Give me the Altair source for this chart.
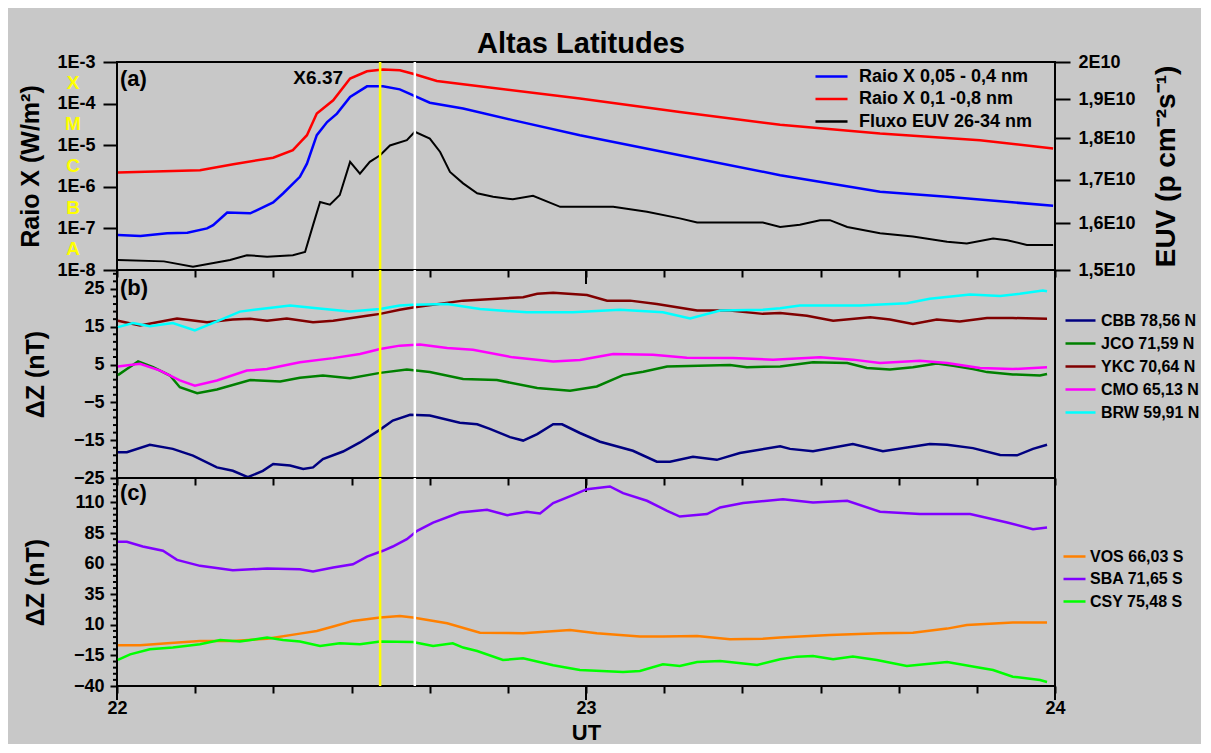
import altair as alt
import pandas as pd

FONT = "Liberation Sans"
BG = "#c8c8c8"
W, H = 938, 208

TITLE = "Altas Latitudes"

# ---------------- Panel (a) ----------------
SERIES_A = ["Raio X 0,05 - 0,4 nm", "Raio X 0,1 -0,8 nm", "Fluxo EUV 26-34 nm"]
COLORS_A = ["#0000ff", "#ff0000", "#000000"]

XR_SHORT_T = [22.002, 22.050, 22.107, 22.150, 22.192, 22.205, 22.225, 22.235, 22.284, 22.333,
              22.354, 22.390, 22.405, 22.426, 22.448, 22.469, 22.497, 22.533, 22.567, 22.603,
              22.667, 22.738, 22.844, 22.987, 23.200, 23.414, 23.627, 23.770, 23.996]
XR_SHORT_V = [6.9e-8, 6.6e-8, 7.6e-8, 7.9e-8, 1.0e-7, 1.2e-7, 1.9e-7, 2.4e-7, 2.3e-7, 4.2e-7,
              6.9e-7, 1.74e-6, 3.6e-6, 1.74e-5, 3.6e-5, 5.75e-5, 1.45e-4, 2.6e-4, 2.6e-4, 2.2e-4,
              1.05e-4, 7.6e-5, 4.0e-5, 1.74e-5, 5.75e-6, 1.9e-6, 7.6e-7, 5.75e-7, 3.5e-7]

XR_LONG_T = [22.002, 22.177, 22.248, 22.333, 22.375, 22.390, 22.405, 22.426, 22.461, 22.497,
             22.533, 22.567, 22.603, 22.631, 22.682, 22.738, 22.987, 23.200, 23.414, 23.627,
             23.840, 23.996]
XR_LONG_V = [2.2e-6, 2.5e-6, 3.5e-6, 5.0e-6, 7.6e-6, 1.15e-5, 1.74e-5, 5.75e-5, 1.2e-4, 4.0e-4,
             6.0e-4, 6.6e-4, 6.3e-4, 5.2e-4, 3.5e-4, 2.9e-4, 1.32e-4, 6.3e-5, 3.1e-5, 1.9e-5,
             1.32e-5, 8.3e-6]

EUV_T = [22.002, 22.100, 22.162, 22.241, 22.277, 22.320, 22.375, 22.401, 22.418, 22.433,
         22.454, 22.475, 22.497, 22.518, 22.539, 22.561, 22.582, 22.618, 22.635, 22.667,
         22.689, 22.710, 22.738, 22.768, 22.802, 22.844, 22.887, 22.945, 23.058, 23.130,
         23.200, 23.237, 23.377, 23.414, 23.456, 23.499, 23.520, 23.557, 23.627, 23.697,
         23.770, 23.812, 23.868, 23.898, 23.940, 23.996]
EUV_V = [1.521, 1.518, 1.507, 1.521, 1.531, 1.528, 1.531, 1.538, 1.596, 1.648,
         1.642, 1.664, 1.742, 1.714, 1.742, 1.758, 1.782, 1.795, 1.816, 1.799,
         1.766, 1.718, 1.691, 1.668, 1.660, 1.654, 1.662, 1.637, 1.637, 1.626,
         1.611, 1.602, 1.602, 1.592, 1.597, 1.607, 1.607, 1.592, 1.578, 1.571,
         1.560, 1.556, 1.567, 1.563, 1.553, 1.553]  # x 1E10

GOES_LETTERS = ["A", "B", "C", "M", "X"]
GOES_LEVELS = [10 ** -7.5, 10 ** -6.5, 10 ** -5.5, 10 ** -4.5, 10 ** -3.5]

FLARE_LABEL = "X6.37"
FLARE_T, FLARE_V = 22.429, 4.1e-4

XR_TICKS = [1e-8, 1e-7, 1e-6, 1e-5, 1e-4, 1e-3]
EUV_TICKS = [1.5e10, 1.6e10, 1.7e10, 1.8e10, 1.9e10, 2.0e10]

# ---------------- Panel (b) ----------------
SERIES_B = ["CBB 78,56 N", "JCO 71,59 N", "YKC 70,64 N", "CMO 65,13 N", "BRW 59,91 N"]
COLORS_B = ["#000080", "#008000", "#800000", "#ff00ff", "#00ffff"]

CBB_T = [22.002, 22.021, 22.070, 22.119, 22.162, 22.213, 22.247, 22.279, 22.311, 22.333,
         22.369, 22.397, 22.418, 22.439, 22.482, 22.518, 22.561, 22.588, 22.625, 22.667,
         22.731, 22.768, 22.795, 22.838, 22.866, 22.896, 22.930, 22.949, 22.987, 23.030,
         23.100, 23.151, 23.179, 23.228, 23.279, 23.328, 23.414, 23.435, 23.484, 23.569,
         23.633, 23.733, 23.770, 23.825, 23.883, 23.919, 23.953, 23.983]
CBB_V = [-18.2, -18.2, -16.2, -17.3, -19.1, -22.2, -23.1, -24.8, -23.1, -21.3,
         -21.7, -22.6, -22.2, -20.0, -18.0, -15.6, -12.2, -9.8, -8.3, -8.5,
         -10.4, -10.8, -12.0, -14.2, -15.1, -13.4, -10.8, -10.8, -13.1, -15.4,
         -17.8, -20.7, -20.7, -19.4, -20.2, -18.4, -16.6, -17.3, -17.9, -16.0,
         -17.9, -16.0, -16.2, -17.1, -18.9, -19.0, -17.3, -16.2]

JCO_T = [22.002, 22.021, 22.045, 22.077, 22.113, 22.134, 22.171, 22.213, 22.284, 22.348,
         22.390, 22.439, 22.497, 22.561, 22.618, 22.667, 22.738, 22.810, 22.896, 22.966,
         23.023, 23.079, 23.122, 23.173, 23.307, 23.343, 23.414, 23.484, 23.557, 23.599,
         23.648, 23.697, 23.748, 23.783, 23.825, 23.855, 23.910, 23.968, 23.983]
JCO_V = [2.2, 3.8, 5.8, 4.3, 2.1, -1.0, -2.6, -1.6, 0.9, 0.5,
         1.5, 2.1, 1.4, 2.8, 3.7, 3.0, 1.2, 0.9, -1.2, -1.9,
         -0.8, 2.2, 3.1, 4.5, 4.9, 4.3, 4.5, 5.6, 5.4, 4.1,
         3.7, 4.3, 5.3, 4.7, 3.8, 3.0, 2.4, 2.1, 2.5]

YKC_T = [22.002, 22.049, 22.128, 22.192, 22.247, 22.284, 22.320, 22.362, 22.418, 22.461,
         22.533, 22.561, 22.603, 22.631, 22.738, 22.866, 22.896, 22.930, 23.002, 23.045,
         23.094, 23.151, 23.237, 23.307, 23.377, 23.414, 23.471, 23.527, 23.606, 23.648,
         23.697, 23.748, 23.797, 23.855, 23.910, 23.983]
YKC_V = [16.6, 15.3, 17.2, 16.2, 16.9, 17.1, 16.6, 17.2, 16.2, 16.6,
         17.9, 18.4, 19.5, 20.1, 21.9, 22.8, 23.7, 24.0, 23.4, 21.9,
         21.9, 21.0, 19.3, 19.3, 18.4, 18.6, 17.9, 16.6, 17.5, 16.9,
         15.7, 16.9, 16.4, 17.3, 17.3, 17.1]

CMO_T = [22.002, 22.049, 22.092, 22.134, 22.166, 22.213, 22.277, 22.320, 22.390, 22.461,
         22.518, 22.561, 22.603, 22.646, 22.704, 22.759, 22.844, 22.930, 22.987, 23.058,
         23.143, 23.215, 23.313, 23.399, 23.499, 23.569, 23.627, 23.712, 23.770, 23.840,
         23.910, 23.983]
CMO_V = [4.5, 5.2, 3.4, 0.8, -0.6, 0.8, 3.4, 3.8, 5.6, 6.7,
         7.8, 9.1, 10.0, 10.3, 9.4, 8.9, 6.9, 5.8, 6.2, 7.8,
         7.6, 6.8, 6.7, 6.3, 6.9, 6.3, 5.4, 6.0, 5.4, 4.1,
         3.8, 4.3]

BRW_T = [22.002, 22.034, 22.070, 22.119, 22.166, 22.213, 22.262, 22.320, 22.369, 22.426,
         22.497, 22.561, 22.603, 22.631, 22.704, 22.774, 22.874, 22.972, 23.072, 23.164,
         23.222, 23.286, 23.377, 23.414, 23.456, 23.584, 23.684, 23.733, 23.819, 23.883,
         23.925, 23.974, 23.983]
BRW_V = [14.9, 16.0, 15.1, 16.0, 14.0, 16.4, 19.0, 19.9, 20.6, 19.9,
         19.0, 19.7, 20.6, 20.8, 21.0, 19.7, 18.8, 18.8, 19.5, 18.8,
         17.2, 19.3, 19.5, 19.9, 20.6, 20.6, 21.2, 22.4, 23.5, 23.1,
         23.7, 24.6, 24.4]

# ---------------- Panel (c) ----------------
SERIES_C = ["VOS 66,03 S", "SBA 71,65 S", "CSY 75,48 S"]
COLORS_C = ["#ff8000", "#8000ff", "#00ff00"]

VOS_T = [22.002, 22.049, 22.107, 22.177, 22.247, 22.320, 22.390, 22.426, 22.461, 22.503,
         22.561, 22.603, 22.631, 22.704, 22.774, 22.866, 22.966, 23.023, 23.115, 23.164,
         23.237, 23.307, 23.377, 23.414, 23.520, 23.627, 23.697, 23.770, 23.812, 23.910,
         23.983]
VOS_V = [-6.7, -6.7, -5.1, -3.2, -3.2, -1.3, 2.8, 5.0, 8.6, 13.2,
         15.9, 17.3, 15.9, 11.3, 3.6, 3.1, 5.8, 3.1, 0.4, 0.4,
         0.9, -1.8, -1.3, -0.4, 1.7, 3.1, 3.6, 6.9, 9.9, 11.8,
         11.8]

SBA_T = [22.002, 22.021, 22.055, 22.098, 22.128, 22.177, 22.247, 22.320, 22.390, 22.418,
         22.461, 22.503, 22.533, 22.567, 22.588, 22.603, 22.618, 22.640, 22.674, 22.731,
         22.789, 22.832, 22.874, 22.902, 22.930, 22.972, 23.002, 23.051, 23.079, 23.130,
         23.173, 23.200, 23.258, 23.286, 23.335, 23.420, 23.484, 23.557, 23.627, 23.712,
         23.819, 23.898, 23.953, 23.983]
SBA_V = [77.8, 77.8, 74.0, 70.5, 63.1, 58.2, 54.6, 56.0, 55.5, 53.6,
         56.8, 59.5, 65.8, 70.5, 74.0, 77.0, 80.0, 86.8, 93.6, 101.8,
         104.0, 99.6, 102.4, 101.0, 109.5, 116.0, 120.9, 123.1, 117.6, 111.4,
         103.2, 98.5, 100.5, 105.9, 109.5, 112.7, 110.0, 111.4, 102.4, 100.5,
         100.5, 93.6, 88.2, 89.5]

CSY_T = [22.002, 22.028, 22.070, 22.119, 22.177, 22.220, 22.262, 22.320, 22.354, 22.390,
         22.433, 22.475, 22.518, 22.561, 22.631, 22.674, 22.716, 22.738, 22.768, 22.823,
         22.866, 22.930, 22.987, 23.079, 23.115, 23.164, 23.200, 23.237, 23.286, 23.365,
         23.414, 23.450, 23.484, 23.527, 23.569, 23.620, 23.684, 23.770, 23.840, 23.868,
         23.910, 23.968, 23.983]
CSY_V = [-18.7, -14.1, -10.0, -8.6, -5.9, -2.4, -3.7, -0.4, -2.4, -3.7,
         -7.3, -5.1, -5.9, -3.7, -4.0, -7.3, -5.1, -8.6, -11.4, -18.7,
         -17.4, -23.1, -26.9, -28.5, -27.7, -22.3, -23.6, -20.4, -19.5, -22.8,
         -18.2, -16.0, -15.5, -18.2, -16.0, -18.7, -23.6, -20.4, -25.0, -26.9,
         -32.4, -35.1, -36.7]

# Event markers (UT hours)
YELLOW_T = 22.561
WHITE_T = 22.635

X_TICKS = [22 + i / 6 for i in range(13)]
X_HOURS = [22, 23, 24]

B_MAJOR = [-25, -15, -5, 5, 15, 25]
B_MINOR = [v for v in range(-23, 31, 2) if v not in B_MAJOR]
C_MAJOR = [-40, -15, 10, 35, 60, 85, 110]
C_MINOR = [v for v in range(-35, 130, 5) if v not in C_MAJOR]


def long_df(pairs):
    rows = []
    for name, ts, vs in pairs:
        for t, v in zip(ts, vs):
            rows.append({"t": t, "v": v, "serie": name})
    return pd.DataFrame(rows)


XSCALE = alt.Scale(domain=[22, 24], nice=False, zero=False)


def x_enc(show):
    ax = alt.Axis(values=X_TICKS, grid=False, domain=False, tickSize=7, tickWidth=2,
                  tickColor="black", labels=show, labelOverlap=False, labelFlush=False,
                  labelExpr="datum.value % 1 == 0 ? format(datum.value, 'd') : ''",
                  labelFontSize=18, labelFont=FONT, labelFontWeight="bold", labelPadding=6,
                  title="UT" if show else None, titleFontSize=22, titleFont=FONT,
                  titleFontWeight="bold", titlePadding=5)
    return alt.X("t:Q", scale=XSCALE, axis=ax)


def overlays(show):
    hours = alt.Chart(pd.DataFrame({"t": X_HOURS})).mark_rule(color="black", strokeWidth=2).encode(
        x=x_enc(show), y=alt.value(H), y2=alt.value(H + 14))
    yel = alt.Chart(pd.DataFrame({"t": [YELLOW_T]})).mark_rule(color="#ffff00", strokeWidth=2.5).encode(
        x=x_enc(show), y=alt.value(0), y2=alt.value(H))
    wht = alt.Chart(pd.DataFrame({"t": [WHITE_T]})).mark_rule(color="#ffffff", strokeWidth=2.5).encode(
        x=x_enc(show), y=alt.value(0), y2=alt.value(H))
    return [yel, wht, hours]


def text_at(txt, xpx, ypx, size, align="left"):
    return alt.Chart(pd.DataFrame({"lab": [txt]})).mark_text(
        align=align, baseline="middle", font=FONT, fontSize=size, fontWeight="bold", color="black"
    ).encode(x=alt.value(xpx), y=alt.value(ypx), text="lab:N")


def legend(x, y, row_pad, half_len, box, off, fsize):
    return alt.Legend(orient="none", legendX=x, legendY=y, title=None,
                      symbolType=f"M{-half_len},0H{half_len}", symbolSize=box * box,
                      symbolStrokeWidth=2.5, labelFontSize=fsize,
                      labelFont=FONT, labelFontWeight="bold", labelColor="black",
                      labelOffset=off, rowPadding=row_pad, padding=0, labelLimit=400)


# ---------- Panel (a)
xr_df = long_df([(SERIES_A[0], XR_SHORT_T, XR_SHORT_V), (SERIES_A[1], XR_LONG_T, XR_LONG_V)])
euv_df = pd.DataFrame({"t": EUV_T, "v": [v * 1e10 for v in EUV_V], "serie": SERIES_A[2]})

ya_scale = alt.Scale(type="log", domain=[1e-8, 1e-3], nice=False)
ya_axis = alt.Axis(values=XR_TICKS, grid=False, domain=False, tickSize=14, tickWidth=2,
                   tickColor="black", labelExpr="'1E' + round(log(datum.value) / LN10)",
                   labelFontSize=18, labelFont=FONT, labelFontWeight="bold", labelPadding=8,
                   title="Raio X (W/m²)", titleFontSize=25, titleFont=FONT, titleFontWeight="bold",
                   titleAngle=270, titleBaseline="middle", titleX=-87)
# legend (a): line 32 px, rows ~20.5 px
color_a = alt.Color("serie:N", scale=alt.Scale(domain=SERIES_A, range=COLORS_A),
                    legend=legend(704, 4, 2.5, 1.78, 18, 17, 18))

xr_lines = alt.Chart(xr_df).mark_line(strokeWidth=2.5).encode(
    x=x_enc(False), y=alt.Y("v:Q", scale=ya_scale, axis=ya_axis), color=color_a)

letters = alt.Chart(pd.DataFrame({"lab": GOES_LETTERS, "v": GOES_LEVELS})).mark_text(
    font=FONT, fontSize=19, fontWeight="bold", color="#ffff00", align="center", baseline="middle"
).encode(x=alt.value(-44), y=alt.Y("v:Q", scale=ya_scale, axis=ya_axis), text="lab:N")

flare = alt.Chart(pd.DataFrame({"t": [FLARE_T], "v": [FLARE_V], "lab": [FLARE_LABEL]})).mark_text(
    font=FONT, fontSize=19, fontWeight="bold", color="black", align="center", baseline="middle"
).encode(x=x_enc(False), y=alt.Y("v:Q", scale=ya_scale, axis=ya_axis), text="lab:N")

inner_a = alt.layer(xr_lines, letters, flare)

ye_axis = alt.Axis(values=EUV_TICKS, orient="right", grid=False, domain=False, tickSize=15,
                   tickWidth=2, tickColor="black",
                   labelExpr="replace(format(datum.value / 1e10, '.1~f'), '.', ',') + 'E10'",
                   labelFontSize=18, labelFont=FONT, labelFontWeight="bold", labelPadding=8,
                   title="EUV (p cm⁻²s⁻¹)", titleFontSize=28, titleFont=FONT,
                   titleFontWeight="bold", titleAngle=270, titleBaseline="middle", titleX=111)
euv_line = alt.Chart(euv_df).mark_line(strokeWidth=2).encode(
    x=x_enc(False),
    y=alt.Y("v:Q", scale=alt.Scale(type="log", domain=[1.5e10, 2e10], nice=False, zero=False),
            axis=ye_axis),
    color=color_a)

panel_a = alt.layer(inner_a, euv_line, text_at("(a)", 3, 17, 22), text_at(TITLE, 464, -18, 29, "center"),
                    *overlays(False)).resolve_scale(y="independent").properties(width=W, height=H)


# ---------- Panels (b) and (c)
def dz_panel(df, series, colors, domain, major, minor, label, label_y, show_x, leg):
    ysc = alt.Scale(domain=domain, nice=False, zero=False)
    yax = alt.Axis(values=major, grid=False, domain=False, tickSize=7, tickWidth=2,
                   tickColor="black", labelFontSize=18, labelFont=FONT, labelFontWeight="bold",
                   labelPadding=6, title="ΔZ (nT)", titleFontSize=25, titleFont=FONT,
                   titleFontWeight="bold", titleAngle=270, titleBaseline="middle", titleX=-82)
    col = alt.Color("serie:N", scale=alt.Scale(domain=series, range=colors), legend=leg)
    lines = alt.Chart(df).mark_line(strokeWidth=2.5).encode(
        x=x_enc(show_x), y=alt.Y("v:Q", scale=ysc, axis=yax), color=col)
    minors = alt.Chart(pd.DataFrame({"v": minor})).mark_rule(color="black", strokeWidth=2).encode(
        x=alt.value(0), x2=alt.value(-4), y=alt.Y("v:Q", scale=ysc, axis=yax))
    return alt.layer(lines, minors, text_at(label, 3, label_y, 22), *overlays(show_x)).properties(
        width=W, height=H)


b_df = long_df([(SERIES_B[0], CBB_T, CBB_V), (SERIES_B[1], JCO_T, JCO_V),
                (SERIES_B[2], YKC_T, YKC_V), (SERIES_B[3], CMO_T, CMO_V),
                (SERIES_B[4], BRW_T, BRW_V)])
c_df = long_df([(SERIES_C[0], VOS_T, VOS_V), (SERIES_C[1], SBA_T, SBA_V),
                (SERIES_C[2], CSY_T, CSY_V)])

# legend (b): line 30 px, rows 23 px ; legend (c): line 22 px, rows 22.5 px
panel_b = dz_panel(b_df, SERIES_B, COLORS_B, [-25, 30], B_MAJOR, B_MINOR, "(b)", 18, False,
                   legend(952, 39, 3, 1.5, 20, 9, 16))
panel_c = dz_panel(c_df, SERIES_C, COLORS_C, [-40, 130], C_MAJOR, C_MINOR, "(c)", 15, True,
                   legend(946, 67, 2.5, 1.1, 20, 4, 16))

chart = alt.vconcat(panel_a, panel_b, panel_c, spacing=0, bounds="flush").resolve_scale(
    x="shared", y="independent", color="independent").resolve_axis(
    x="independent", y="independent").resolve_legend(color="independent").configure(
    background=BG, padding={"left": 9, "top": 21, "right": 0, "bottom": 0}).configure_view(
    stroke="black", strokeWidth=2).configure_axis(labelColor="black", titleColor="black")

chart.save("out.html", embed_options={"renderer": "svg", "actions": False})
